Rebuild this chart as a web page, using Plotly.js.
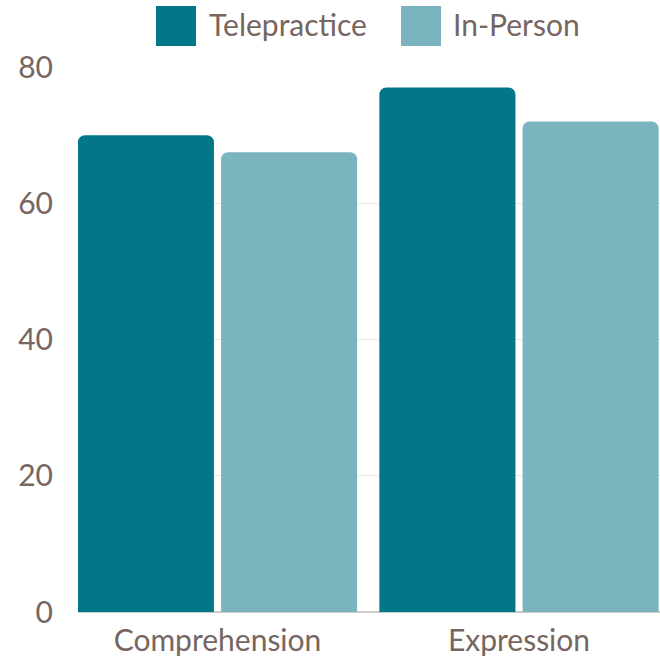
<!DOCTYPE html>
<html>
<head>
<meta charset="utf-8">
<script src="https://cdn.plot.ly/plotly-3.0.1.min.js"></script>
<style>html,body{margin:0;padding:0;background:#fff;}#chart{width:660px;height:659px;}</style>
</head>
<body>
<div id="chart"></div>
<script>
const categories = ["Comprehension", "Expression"];
const seriesNames = ["Telepractice", "In-Person"];
const telepractice = [70, 77];
const inPerson = [67.5, 72];
const yTicks = [0, 20, 40, 60, 80];

const colors = ["#017788", "#7AB5BF"];
const textColor = "#76665F";
const fontFamily = "Lato, 'Open Sans', sans-serif";

const traces = [
  {type: "bar", name: seriesNames[0], x: categories, y: telepractice, marker: {color: colors[0]}, hoverinfo: "none"},
  {type: "bar", name: seriesNames[1], x: categories, y: inPerson, marker: {color: colors[1]}, hoverinfo: "none"}
];

// custom legend (large square swatches)
const legendX = [[156, 196, 207], [401, 441, 451]];
const shapes = [];
const annotations = [];
seriesNames.forEach((n, i) => {
  shapes.push({type: "rect", xref: "paper", yref: "paper",
    x0: (legendX[i][0] - 78) / 582, x1: (legendX[i][1] - 78) / 582,
    y0: (612 - 46) / 545, y1: (612 - 6) / 545,
    fillcolor: colors[i], line: {width: 0}});
  annotations.push({xref: "paper", yref: "paper", x: (legendX[i][2] - 78) / 582, y: (612 - 24) / 545,
    xanchor: "left", yanchor: "middle", text: n, showarrow: false,
    font: {family: fontFamily, size: 30, color: textColor}});
});

const layout = {
  width: 660, height: 659,
  margin: {l: 78, r: 0, t: 67, b: 47},
  paper_bgcolor: "#fff", plot_bgcolor: "#fff",
  barmode: "group", bargap: 0.05, bargroupgap: 0.05,
  barcornerradius: 7,
  showlegend: false,
  font: {family: fontFamily, color: textColor, size: 30},
  xaxis: {range: [-0.4627, 1.4677], showgrid: false, showline: false, zeroline: false,
    tickfont: {family: fontFamily, size: 30, color: textColor}, ticklabelstandoff: 8, fixedrange: true},
  yaxis: {range: [0, 80], tickvals: yTicks, ticktext: yTicks.map(String), showgrid: true, gridcolor: "#E8E8E8", gridwidth: 1,
    zeroline: true, zerolinecolor: "#CFCBC8", zerolinewidth: 1.5, showline: false,
    tickfont: {family: fontFamily, size: 30, color: textColor}, ticklabelstandoff: 24, fixedrange: true},
  shapes: shapes,
  annotations: annotations
};

Plotly.newPlot("chart", traces, layout, {displayModeBar: false, staticPlot: true});
</script>
</body>
</html>
